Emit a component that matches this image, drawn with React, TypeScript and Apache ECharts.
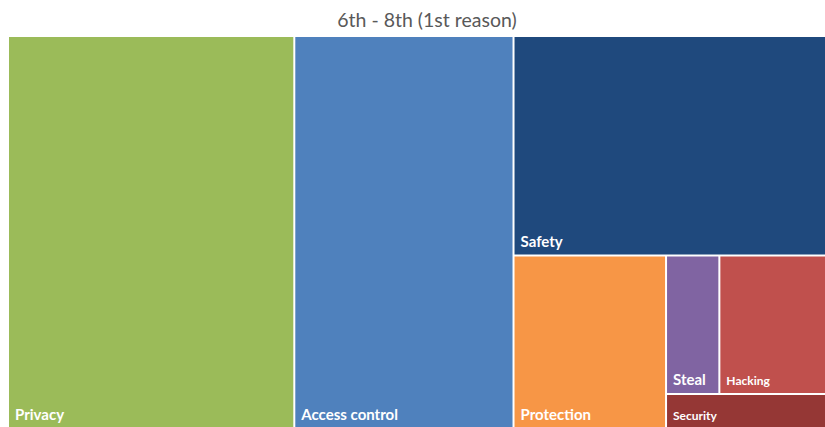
import React, { useEffect, useRef } from "react";
import * as echarts from "echarts";

const TITLE = "6th - 8th (1st reason)";
// order follows the treemap placement (squarify, no sorting)
const categories = ["Privacy", "Access control", "Safety", "Protection", "Steal", "Hacking", "Security"];
const values = [35.0, 26.8, 21.4, 8.2, 2.3, 4.6, 1.7];
const colors = ["#9BBB59", "#4F81BD", "#1F497D", "#F79646", "#8064A2", "#C0504D", "#953735"];
const labelSizes = [15, 15, 15, 15, 15, 12, 12];

export default function App() {
  const ref = useRef<HTMLDivElement>(null);
  useEffect(() => {
    document.body.style.margin = "0";
    document.body.style.overflow = "hidden";
    if (!ref.current) return;
    const chart = echarts.init(ref.current, null, { renderer: "svg" });
    const data = categories.map((name, i) => ({
      name,
      value: values[i],
      itemStyle: { color: colors[i] },
      label: { fontSize: labelSizes[i] },
    }));
    chart.setOption({
      animation: false,
      title: {
        text: TITLE,
        left: 422,
        textAlign: "center",
        top: 4,
        textStyle: { fontFamily: "Lato", fontSize: 19.5, fontWeight: "normal", color: "#595959" },
      },
      series: [
        {
          type: "treemap",
          left: 9,
          top: 37,
          width: 816,
          height: 390,
          squareRatio: 1,
          sort: false,
          roam: false,
          nodeClick: false,
          breadcrumb: { show: false },
          label: {
            show: true,
            position: "insideBottomLeft",
            distance: 1,
            color: "#fff",
            fontFamily: "Lato",
            fontWeight: "bold",
            fontSize: 15,
            formatter: "{b}",
          },
          itemStyle: { borderWidth: 0 },
          levels: [
            { itemStyle: { borderWidth: 0, gapWidth: 2, borderColor: "#fff" } },
            { itemStyle: { borderWidth: 0, gapWidth: 0 } },
          ],
          emphasis: { disabled: true },
          data,
        },
      ],
    });
    return () => chart.dispose();
  }, []);
  return <div ref={ref} style={{ width: 825, height: 427 }} />;
}
